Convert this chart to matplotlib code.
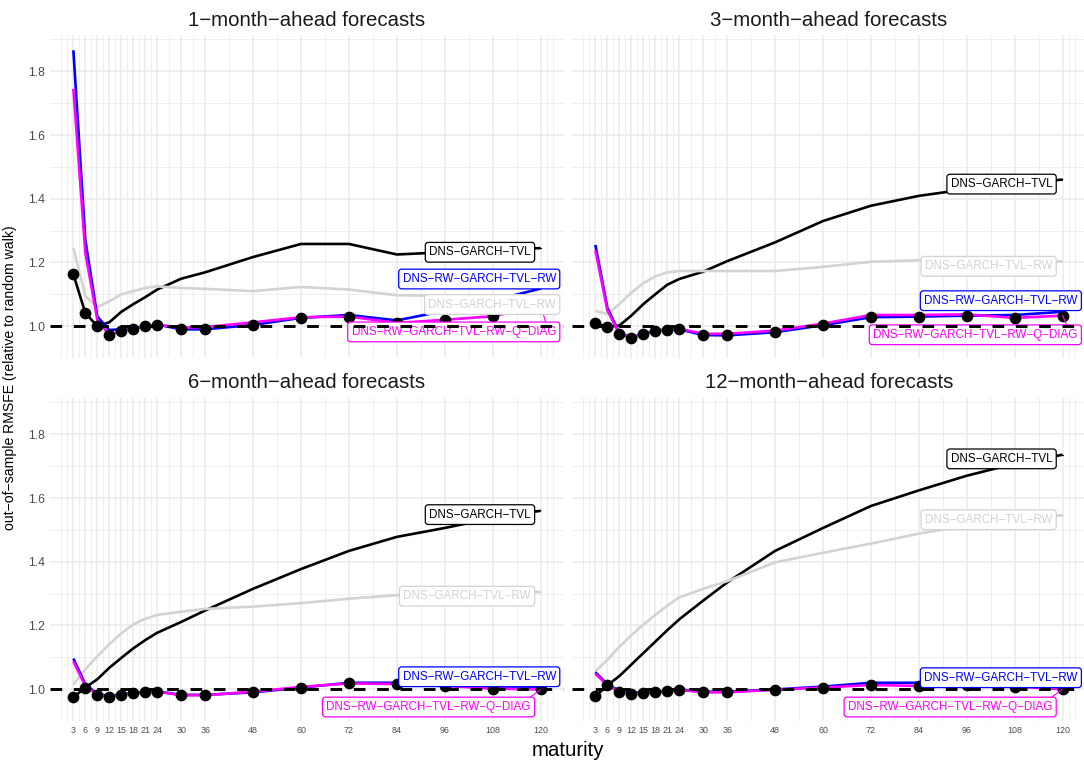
import numpy as np
import matplotlib.pyplot as plt

plt.rcParams['font.family'] = ['Liberation Sans', 'DejaVu Sans']

# maturities (months) on the x axis
maturity = [3, 6, 9, 12, 15, 18, 21, 24, 30, 36, 48, 60, 72, 84, 96, 108, 120]
horizons = [1, 3, 6, 12]

# 1-month-ahead
tvl_1       = [1.163, 1.041, 1.000, 1.012, 1.045, 1.069, 1.091, 1.115, 1.149, 1.169, 1.217, 1.258, 1.258, 1.225, 1.232, 1.240, 1.245]
tvl_rw_1    = [1.246, 1.094, 1.060, 1.078, 1.100, 1.110, 1.120, 1.125, 1.120, 1.117, 1.110, 1.123, 1.115, 1.097, 1.095, 1.090, 1.085]
rw_tvl_rw_1 = [1.866, 1.270, 1.030, 0.988, 0.990, 0.993, 1.000, 1.005, 0.990, 0.990, 1.004, 1.026, 1.035, 1.018, 1.048, 1.080, 1.118]
q_diag_1    = [1.745, 1.230, 1.020, 0.972, 0.985, 0.992, 0.999, 1.005, 0.995, 0.997, 1.012, 1.028, 1.030, 1.010, 1.020, 1.031, 1.065]

# 3-month-ahead
tvl_3       = [1.010, 0.997, 1.002, 1.033, 1.069, 1.100, 1.130, 1.148, 1.171, 1.204, 1.263, 1.330, 1.378, 1.409, 1.430, 1.448, 1.460]
tvl_rw_3    = [1.048, 1.038, 1.069, 1.105, 1.135, 1.156, 1.169, 1.173, 1.173, 1.173, 1.173, 1.186, 1.202, 1.207, 1.207, 1.205, 1.203]
rw_tvl_rw_3 = [1.255, 1.058, 0.978, 0.965, 0.976, 0.986, 0.990, 0.990, 0.972, 0.971, 0.981, 1.003, 1.028, 1.030, 1.033, 1.035, 1.045]
q_diag_3    = [1.238, 1.050, 0.976, 0.963, 0.974, 0.985, 0.989, 0.992, 0.976, 0.976, 0.986, 1.008, 1.035, 1.035, 1.037, 1.026, 1.033]

# 6-month-ahead
tvl_6       = [0.974, 1.005, 1.031, 1.067, 1.098, 1.128, 1.154, 1.177, 1.211, 1.247, 1.315, 1.377, 1.434, 1.478, 1.506, 1.537, 1.560]
tvl_rw_6    = [1.015, 1.062, 1.103, 1.141, 1.175, 1.203, 1.221, 1.233, 1.243, 1.252, 1.259, 1.270, 1.284, 1.295, 1.300, 1.303, 1.305]
rw_tvl_rw_6 = [1.096, 1.015, 0.985, 0.978, 0.984, 0.988, 0.991, 0.993, 0.982, 0.982, 0.990, 1.005, 1.020, 1.020, 1.013, 1.008, 1.008]
q_diag_6    = [1.087, 1.010, 0.982, 0.976, 0.982, 0.987, 0.990, 0.992, 0.981, 0.981, 0.992, 1.007, 1.018, 1.016, 1.010, 1.002, 0.999]

# 12-month-ahead
tvl_12       = [0.977, 1.012, 1.041, 1.077, 1.113, 1.149, 1.185, 1.219, 1.278, 1.335, 1.434, 1.506, 1.575, 1.624, 1.670, 1.708, 1.736]
tvl_rw_12    = [1.056, 1.092, 1.133, 1.169, 1.202, 1.233, 1.262, 1.288, 1.315, 1.339, 1.398, 1.428, 1.457, 1.488, 1.514, 1.530, 1.546]
rw_tvl_rw_12 = [1.053, 1.015, 0.995, 0.988, 0.990, 0.992, 0.995, 0.999, 0.992, 0.992, 0.999, 1.008, 1.020, 1.020, 1.020, 1.017, 1.005]
q_diag_12    = [1.048, 1.013, 0.992, 0.985, 0.987, 0.990, 0.993, 0.998, 0.990, 0.990, 0.998, 1.005, 1.013, 1.010, 1.013, 1.008, 1.000]

models  = ['DNS\u2212GARCH\u2212TVL', 'DNS\u2212GARCH\u2212TVL\u2212RW',
           'DNS\u2212RW\u2212GARCH\u2212TVL\u2212RW', 'DNS\u2212RW\u2212GARCH\u2212TVL\u2212RW\u2212Q\u2212DIAG']
colours = ['black', 'lightgray', 'blue', 'magenta']

panels = [[tvl_1, tvl_rw_1, rw_tvl_rw_1, q_diag_1],
          [tvl_3, tvl_rw_3, rw_tvl_rw_3, q_diag_3],
          [tvl_6, tvl_rw_6, rw_tvl_rw_6, q_diag_6],
          [tvl_12, tvl_rw_12, rw_tvl_rw_12, q_diag_12]]

# where the end-of-line labels sit: (right edge of box, y)
label_pos = [[(118.4, 1.245), (124.7, 1.081), (124.7, 1.161), (124.7, 0.995)],
             [(118.3, 1.459), (118.3, 1.201), (124.6, 1.093), (124.6, 0.986)],
             [(118.4, 1.561), (118.4, 1.305), (124.7, 1.052), (118.4, 0.957)],
             [(118.3, 1.736), (118.3, 1.545), (124.6, 1.049), (118.3, 0.957)]]

W, H = 1084, 760
fig = plt.figure(figsize=(W/100, H/100), dpi=100)

# panel boxes in pixels: left, top, right, bottom
boxes = [(50, 35, 564, 358), (572, 35, 1086, 358),
         (50, 398, 564, 721), (572, 398, 1086, 721)]

mids = [(a + b)/2 for a, b in zip(maturity[:-1], maturity[1:])]
x_minor = [0, 1.5] + mids + [121.5, 123]
y_major = [1.0, 1.2, 1.4, 1.6, 1.8]
y_minor = [0.9, 1.1, 1.3, 1.5, 1.7, 1.9]

for i, (l, t, r, b) in enumerate(boxes):
    ax = fig.add_axes([l/W, 1 - b/H, (r - l)/W, (b - t)/H])
    ax.set_xlim(-2.85, 125.85)
    ax.set_ylim(0.918, 1.914)
    for s in ax.spines.values():
        s.set_visible(False)
    ax.set_xticks(maturity)
    ax.set_xticks(x_minor, minor=True)
    ax.set_yticks(y_major)
    ax.set_yticks(y_minor, minor=True)
    ax.grid(which='major', color='#EBEBEB', lw=1.1)
    ax.grid(which='minor', color='#EBEBEB', lw=0.55)
    ax.set_axisbelow(True)
    ax.tick_params(which='both', length=0)
    ax.tick_params(axis='x', labelsize=6.4, labelcolor='#4D4D4D', pad=3.5)
    ax.tick_params(axis='y', labelsize=8.8, labelcolor='#4D4D4D', pad=3.5)
    if i < 2:
        ax.set_xticklabels([])
    if i % 2 == 1:
        ax.set_yticklabels([])

    series = panels[i]
    for vals, c in zip(series, colours):
        ax.plot(maturity, vals, color=c, lw=1.9, zorder=2, solid_capstyle='butt')

    # best model at each maturity
    best = np.min(np.array(series), axis=0)
    ax.plot(maturity, best, 'o', color='black', ms=7.4, zorder=3)

    for name, vals, c, (lx, ly) in zip(models, series, colours, label_pos[i]):
        ax.plot([lx - 3, 120], [ly, vals[-1]], color=c, lw=0.8, zorder=4)
        ax.annotate(name, xy=(lx, ly), xytext=(-2.5, -3), textcoords='offset points',
                    ha='right', va='center', fontsize=8.4, color=c, zorder=5,
                    bbox=dict(boxstyle='round,pad=0.33,rounding_size=0.25',
                              fc='white', ec=c, lw=0.9))

    ax.axhline(1.0, color='black', lw=2.1, ls=(0, (4, 4)), zorder=6)

    fig.text((l + r)/2/W, 1 - (t - 15)/H, f'{horizons[i]}\u2212month\u2212ahead forecasts',
             ha='center', va='center', fontsize=14.7, color='#1A1A1A')

fig.text(568/W, 1 - 750/H, 'maturity', ha='center', va='center', fontsize=14.7)
fig.text(10/W, 1 - 378/H, 'out\u2212of\u2212sample RMSFE (relative to random walk)',
         ha='center', va='center', rotation=90, fontsize=10.1)

plt.savefig('out.png', dpi=100)
